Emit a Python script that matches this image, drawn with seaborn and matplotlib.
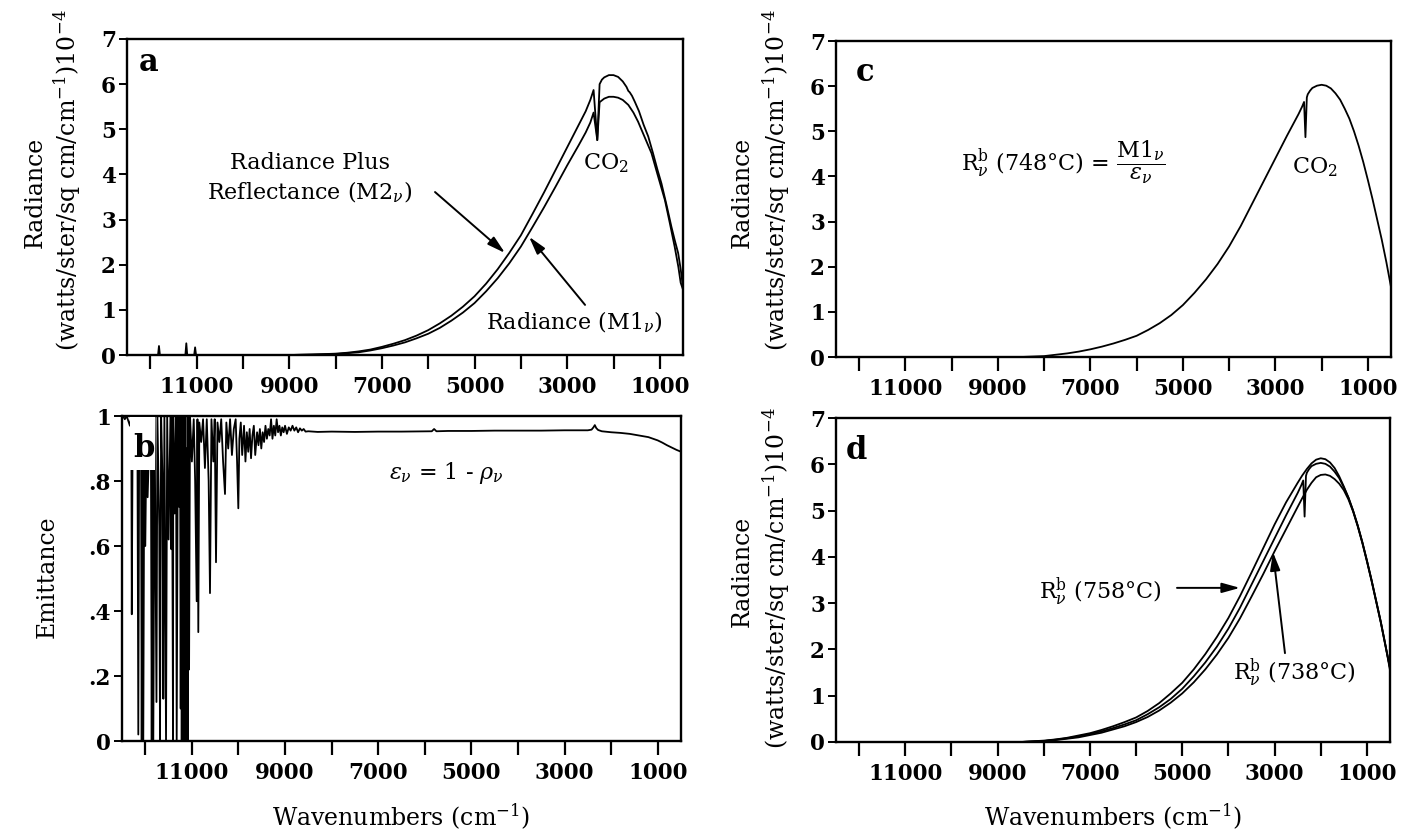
import matplotlib
matplotlib.use("Agg")
import matplotlib.pyplot as plt
import seaborn as sns
import pandas as pd
from matplotlib.patches import Rectangle

# ---------------- data ----------------
# panel a : radiance plus reflectance (M2) and radiance (M1), units 1e-4
m2_wn = [12500, 11830, 11810, 11790, 11240, 11220, 11200, 11050, 11030, 11010,
         9000, 8500, 8250, 8000, 7750, 7500, 7250, 7000, 6750, 6500,
         6250, 6000, 5750, 5500, 5250, 5000, 4750, 4500, 4250, 4000,
         3750, 3500, 3250, 3000, 2750, 2600, 2500, 2430, 2350, 2300,
         2250, 2200, 2100, 2000, 1900, 1800, 1720, 1680, 1650, 1600,
         1540, 1450, 1350, 1250, 1150, 1050, 965, 850, 750, 680,
         605, 550, 500]
m2_val = [0, 0, 0.2, 0, 0, 0.26, 0, 0, 0.17, 0,
          0, 0.01, 0.02, 0.03, 0.05, 0.08, 0.12, 0.18, 0.25, 0.33,
          0.43, 0.55, 0.7, 0.87, 1.07, 1.3, 1.58, 1.9, 2.26, 2.65,
          3.12, 3.6, 4.1, 4.6, 5.1, 5.4, 5.65, 5.87, 4.76, 6.0,
          6.1, 6.15, 6.2, 6.2, 6.16, 6.06, 5.94, 5.85, 5.82, 5.74,
          5.61, 5.4, 5.1, 4.84, 4.48, 4.1, 3.8, 3.3, 2.84, 2.55,
          2.26, 1.9, 1.5]

m1_wn = [12500, 9000, 8500, 8250, 8000, 7750, 7500, 7250, 7000, 6750,
         6500, 6250, 6000, 5750, 5500, 5250, 5000, 4750, 4500, 4250,
         4000, 3750, 3500, 3250, 3000, 2750, 2600, 2500, 2430, 2350,
         2300, 2200, 2100, 2000, 1900, 1800, 1680, 1570, 1470, 1350,
         1180, 1050, 890, 780, 680, 600, 550, 500]
m1_val = [0, 0, 0.01, 0.015, 0.02, 0.04, 0.06, 0.1, 0.15, 0.21,
          0.28, 0.37, 0.47, 0.6, 0.76, 0.94, 1.15, 1.41, 1.7, 2.03,
          2.4, 2.83, 3.27, 3.73, 4.2, 4.65, 4.93, 5.15, 5.37, 4.76,
          5.6, 5.68, 5.72, 5.72, 5.7, 5.65, 5.54, 5.37, 5.17, 4.88,
          4.47, 4.0, 3.43, 2.9, 2.4, 1.95, 1.6, 1.45]

# panel b : emittance, three stretches of the spectrum
b_wn_1 = [12480, 12440, 12400, 12330, 12300, 12290, 12270, 12200, 12170, 12150,
          12130, 12090, 12077, 12060, 12043, 12020, 12000, 11970, 11950, 11900,
          11880, 11862, 11845, 11828, 11800, 11760, 11740, 11700, 11684, 11660,
          11630, 11613, 11590, 11555, 11530, 11500, 11460, 11440, 11427, 11405,
          11399, 11370, 11340, 11326, 11300, 11270, 11255, 11240, 11228, 11218,
          11205, 11195, 11182, 11169, 11158, 11148, 11138, 11130, 11120, 11111,
          11100, 11090, 11075, 11060, 11040]
b_val_1 = [1.0, 0.99, 1.0, 0.97, 1.0, 0.39, 1.0, 0.86, 1.0, 0.02,
           1.0, 0.84, 0.0, 1.0, 0.0, 1.0, 0.6, 1.0, 0.75, 1.0,
           0.95, 0.0, 1.0, 0.0, 1.0, 0.12, 1.0, 0.66, 0.0, 1.0,
           0.8, 0.13, 1.0, 0.0, 1.0, 0.62, 1.0, 0.59, 1.0, 0.0,
           1.0, 0.7, 1.0, 0.0, 1.0, 0.72, 1.0, 0.1, 1.0, 0.0,
           0.9, 0.0, 1.0, 0.0, 0.95, 0.0, 1.0, 0.0, 0.9, 0.0,
           0.85, 0.0, 1.0, 0.22, 1.0]
b_wn_2 = [11000, 10960, 10930, 10897, 10880, 10862, 10840, 10800, 10760, 10720,
          10680, 10640, 10611, 10580, 10540, 10510, 10482, 10450, 10410, 10370,
          10330, 10289, 10260, 10220, 10180, 10140, 10100, 10060, 10030, 10003,
          9980, 9950, 9920, 9880, 9850, 9820, 9790, 9760, 9730, 9700,
          9670, 9640, 9600, 9570, 9540, 9510, 9480, 9450, 9420, 9390,
          9360, 9330, 9300, 9270, 9240, 9210, 9180, 9150, 9120, 9090,
          9060, 9030, 9000, 8960, 8920, 8880, 8840, 8800, 8760, 8720,
          8680, 8640, 8600, 8560]
b_val_2 = [0.86, 0.99, 0.8, 0.43, 0.99, 0.335, 0.98, 0.92, 0.99, 0.84,
           0.99, 0.8, 0.455, 0.99, 0.86, 0.99, 0.55, 0.98, 0.92, 0.99,
           0.86, 0.76, 0.98, 0.9, 0.99, 0.88, 0.96, 0.99, 0.86, 0.716,
           0.93, 0.98, 0.88, 0.97, 0.86, 0.95, 0.89, 0.96, 0.87, 0.94,
           0.97, 0.88, 0.95, 0.91, 0.96, 0.9, 0.95, 0.92, 0.97, 0.93,
           0.96, 0.94, 0.99, 0.93, 0.97, 0.94, 0.99, 0.95, 0.97, 0.94,
           0.965, 0.95, 0.97, 0.945, 0.965, 0.955, 0.97, 0.955, 0.965, 0.95,
           0.962, 0.955, 0.96, 0.952]
b_wn_3 = [8500, 8300, 8000, 7500, 7000, 6500, 6000, 5850, 5800, 5750,
          5500, 5000, 4500, 4000, 3500, 3000, 2500, 2420, 2380, 2350,
          2320, 2280, 2200, 2000, 1800, 1600, 1400, 1200, 1000, 900,
          800, 700, 600, 500]
b_val_3 = [0.953, 0.951, 0.952, 0.951, 0.952, 0.952, 0.953, 0.953, 0.96, 0.953,
           0.954, 0.954, 0.955, 0.955, 0.955, 0.956, 0.956, 0.958, 0.965, 0.972,
           0.963, 0.957, 0.953, 0.95, 0.948, 0.945, 0.94, 0.935, 0.925, 0.918,
           0.91, 0.903, 0.896, 0.89]

# panel c : blackbody radiance at 748 C (units 1e-4)
c_wn = [12500, 8500, 8250, 8000, 7750, 7500, 7250, 7000, 6750, 6500,
        6250, 6000, 5750, 5500, 5250, 5000, 4750, 4500, 4250, 4000,
        3750, 3500, 3250, 3000, 2750, 2500, 2420, 2380, 2350, 2320,
        2300, 2250, 2200, 2100, 2000, 1900, 1800, 1700, 1600, 1500,
        1400, 1300, 1200, 1100, 1000, 900, 800, 700, 600, 500]
c_val = [0, 0, 0.01, 0.02, 0.05, 0.08, 0.12, 0.17, 0.23, 0.3,
         0.38, 0.47, 0.6, 0.75, 0.93, 1.15, 1.42, 1.72, 2.06, 2.45,
         2.9, 3.4, 3.9, 4.4, 4.9, 5.38, 5.55, 5.65, 4.87, 5.75,
         5.82, 5.9, 5.96, 6.01, 6.03, 6.01, 5.95, 5.84, 5.7, 5.5,
         5.28, 5.0, 4.68, 4.32, 3.92, 3.5, 3.05, 2.6, 2.1, 1.55]

# panel d : blackbody radiance at 758 C and 738 C (748 C curve as in c)
d_wn = [12500, 8500, 8250, 8000, 7750, 7500, 7250, 7000, 6750, 6500,
        6250, 6000, 5750, 5500, 5250, 5000, 4750, 4500, 4250, 4000,
        3750, 3500, 3250, 3000, 2750, 2500, 2400, 2300, 2200, 2100,
        2000, 1900, 1800, 1700, 1600, 1500, 1400, 1300, 1200, 1100,
        1000, 900, 800, 700, 600, 500]
d758_val = [0, 0, 0.015, 0.03, 0.055, 0.09, 0.14, 0.19, 0.26, 0.34,
            0.43, 0.53, 0.67, 0.84, 1.05, 1.28, 1.57, 1.9, 2.27, 2.68,
            3.15, 3.66, 4.18, 4.7, 5.18, 5.6, 5.76, 5.9, 6.02, 6.1,
            6.13, 6.11, 6.04, 5.92, 5.74, 5.52, 5.28, 5.0, 4.68, 4.32,
            3.92, 3.5, 3.05, 2.6, 2.1, 1.6]
d738_val = [0, 0, 0.01, 0.02, 0.04, 0.07, 0.1, 0.15, 0.2, 0.27,
            0.34, 0.43, 0.54, 0.68, 0.85, 1.05, 1.29, 1.57, 1.89, 2.25,
            2.67, 3.14, 3.62, 4.12, 4.6, 5.08, 5.27, 5.45, 5.6, 5.72,
            5.77, 5.78, 5.75, 5.68, 5.58, 5.44, 5.24, 4.98, 4.66, 4.3,
            3.9, 3.48, 3.03, 2.58, 2.08, 1.6]

x_ticks = [12000, 11000, 10000, 9000, 8000, 7000, 6000, 5000, 4000, 3000, 2000, 1000]
x_labels = ["", "11000", "", "9000", "", "7000", "", "5000", "", "3000", "", "1000"]
rad_ticks = [0, 1, 2, 3, 4, 5, 6, 7]
rad_labels = ["0", "1", "2", "3", "4", "5", "6", "7"]
em_ticks = [0, 0.2, 0.4, 0.6, 0.8, 1.0]
em_labels = ["0", ".2", ".4", ".6", ".8", "1"]

# ---------------- style ----------------
sns.set_theme(style="white")
plt.rcParams["font.family"] = ["DejaVu Serif"]
plt.rcParams["mathtext.fontset"] = "dejavuserif"
for k in ["text.color", "axes.labelcolor", "xtick.color", "ytick.color", "axes.edgecolor"]:
    plt.rcParams[k] = "black"

W, H = 1405, 838
fig = plt.figure(figsize=(W / 100, H / 100), dpi=100)


def px_axes(left, top, right, bottom):
    return fig.add_axes([left / W, 1 - bottom / H, (right - left) / W, (bottom - top) / H])


ax_a = px_axes(127, 39, 683, 355)
ax_b = px_axes(122, 416, 681, 741)
ax_c = px_axes(836, 41, 1391, 357)
ax_d = px_axes(836, 418, 1390, 742)

LW = 1.3
TFS = 15.5
AFS = 16


def style(ax, yt, yl, ylim):
    ax.set_xlim(12500, 500)
    ax.set_ylim(*ylim)
    ax.set_xticks(x_ticks)
    ax.set_xticklabels(x_labels, fontweight="bold")
    ax.set_yticks(yt)
    ax.set_yticklabels(yl, fontweight="bold")
    ax.tick_params(axis="x", direction="out", length=10, width=1.6, pad=5,
                   labelsize=TFS, colors="black", bottom=True)
    ax.tick_params(axis="y", direction="out", length=6, width=1.4, pad=2,
                   labelsize=TFS, colors="black", left=True)
    for s in ax.spines.values():
        s.set_visible(True)
        s.set_color("black")
        s.set_linewidth(1.7)
    ax.set_xlabel("")
    ax.set_ylabel("")
    ax.grid(False)


def curve(ax, xs, ys):
    df = pd.DataFrame({"wn": xs, "val": ys})
    sns.lineplot(data=df, x="wn", y="val", ax=ax, color="black", lw=LW,
                 estimator=None, sort=False, legend=False)


arrow = dict(arrowstyle="-|>,head_length=0.9,head_width=0.25", color="black", lw=1.4,
             shrinkA=0, shrinkB=0)

# panel a
curve(ax_a, m2_wn, m2_val)
curve(ax_a, m1_wn, m1_val)
style(ax_a, rad_ticks, rad_labels, (0, 7))
ax_a.text(0.038, 0.925, "a", transform=ax_a.transAxes, fontsize=22, fontweight="bold",
          ha="center", va="center")
ax_a.text(2161, 4.25, "CO$_2$", fontsize=AFS, ha="center", va="center")
ax_a.text(8550, 4.25, "Radiance Plus", fontsize=AFS, ha="center", va="center")
ax_a.text(8550, 3.6, r"Reflectance (M2$_\nu$)", fontsize=AFS, ha="center", va="center")
ax_a.text(2852, 0.73, r"Radiance (M1$_\nu$)", fontsize=AFS, ha="center", va="center")
ax_a.annotate("", xy=(4341, 2.26), xytext=(5852, 3.61), arrowprops=arrow)
ax_a.annotate("", xy=(3823, 2.62), xytext=(2614, 1.11), arrowprops=arrow)

# panel b
curve(ax_b, b_wn_1 + b_wn_2 + b_wn_3, b_val_1 + b_val_2 + b_val_3)
style(ax_b, em_ticks, em_labels, (0, 1))
ax_b.add_patch(Rectangle((0.014, 0.834), 0.045, 0.163, transform=ax_b.transAxes,
                         facecolor="white", edgecolor="none", zorder=5))
ax_b.text(0.039, 0.90, "b", transform=ax_b.transAxes, fontsize=22, fontweight="bold",
          ha="center", va="center", zorder=6)
ax_b.text(5544, 0.825, r"$\varepsilon_\nu$ = 1 - $\rho_\nu$", fontsize=AFS,
          ha="center", va="center")

# panel c
curve(ax_c, c_wn, c_val)
style(ax_c, rad_ticks, rad_labels, (0, 7))
ax_c.text(0.052, 0.90, "c", transform=ax_c.transAxes, fontsize=22, fontweight="bold",
          ha="center", va="center")
ax_c.text(2154, 4.21, "CO$_2$", fontsize=AFS, ha="center", va="center")
ax_c.text(7592, 4.3, r"R$^{\mathrm{b}}_{\nu}$ (748°C) = $\dfrac{\mathrm{M1}_{\nu}}{\varepsilon_{\nu}}$",
          fontsize=AFS, ha="center", va="center")

# panel d
curve(ax_d, d_wn, d758_val)
curve(ax_d, c_wn, c_val)
curve(ax_d, d_wn, d738_val)
style(ax_d, rad_ticks, rad_labels, (0, 7))
ax_d.text(0.036, 0.90, "d", transform=ax_d.transAxes, fontsize=22, fontweight="bold",
          ha="center", va="center")
ax_d.text(6782, 3.24, r"R$^{\mathrm{b}}_{\nu}$ (758°C)", fontsize=AFS, ha="center", va="center")
ax_d.text(2580, 1.49, r"R$^{\mathrm{b}}_{\nu}$ (738°C)", fontsize=AFS, ha="center", va="center")
ax_d.annotate("", xy=(3750, 3.33), xytext=(5114, 3.33), arrowprops=arrow)
ax_d.annotate("", xy=(3035, 4.1), xytext=(2775, 1.92), arrowprops=arrow)

# axis titles
LFS = 17
rad_l2 = r"(watts/ster/sq cm/cm$^{-1}$)10$^{-4}$"
fig.text(35 / W, 1 - 192 / H, "Radiance", rotation=90, fontsize=LFS, ha="center", va="center")
fig.text(67 / W, 1 - 180 / H, rad_l2, rotation=90, fontsize=LFS, ha="center", va="center")
fig.text(47 / W, 1 - 577 / H, "Emittance", rotation=90, fontsize=LFS, ha="center", va="center")
fig.text(742 / W, 1 - 192 / H, "Radiance", rotation=90, fontsize=LFS, ha="center", va="center")
fig.text(776 / W, 1 - 180 / H, rad_l2, rotation=90, fontsize=LFS, ha="center", va="center")
fig.text(742 / W, 1 - 571 / H, "Radiance", rotation=90, fontsize=LFS, ha="center", va="center")
fig.text(776 / W, 1 - 578 / H, rad_l2, rotation=90, fontsize=LFS, ha="center", va="center")
fig.text(401 / W, 1 - 817 / H, r"Wavenumbers (cm$^{-1}$)", fontsize=LFS, ha="center", va="center")
fig.text(1113 / W, 1 - 817 / H, r"Wavenumbers (cm$^{-1}$)", fontsize=LFS, ha="center", va="center")

fig.savefig("out.png", dpi=100, facecolor="white")
